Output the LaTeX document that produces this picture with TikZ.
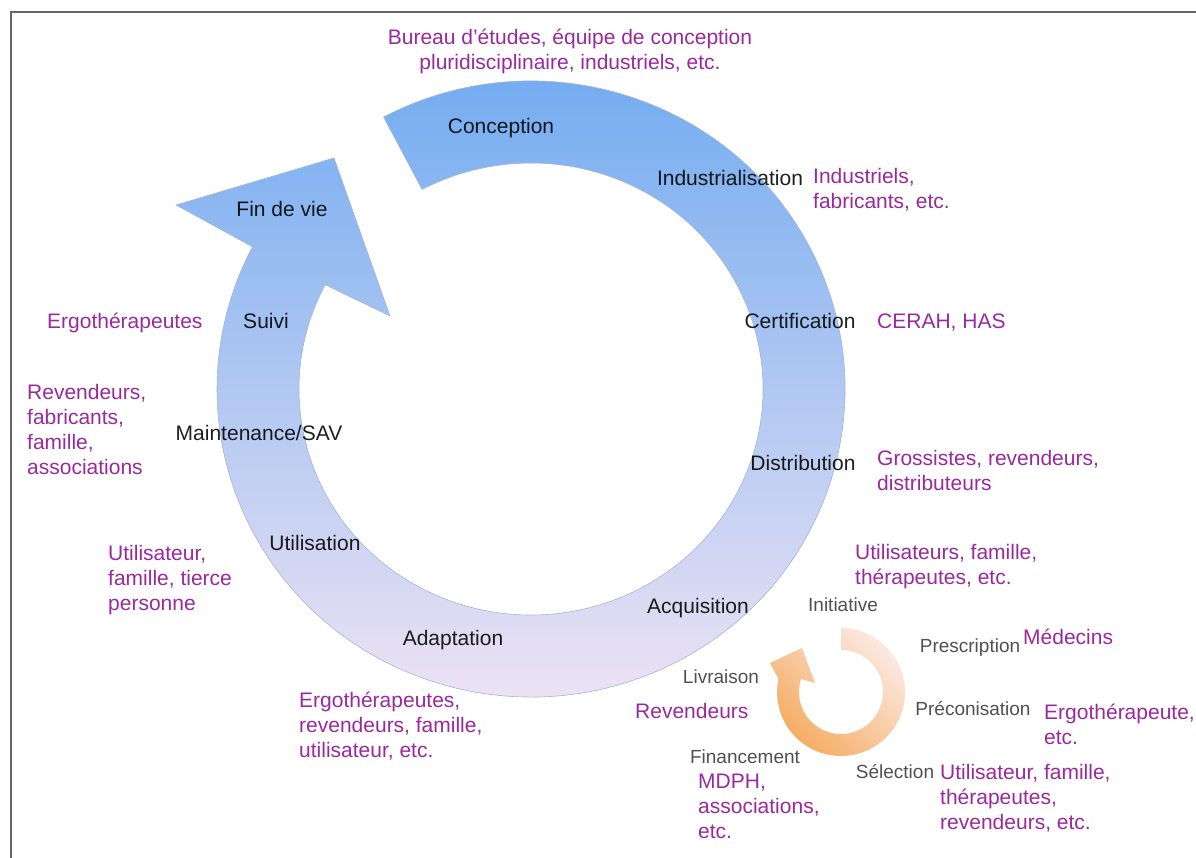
\documentclass[tikz,border=0pt]{standalone}
\usepackage{fontspec}
\setmainfont{Liberation Sans}
\usetikzlibrary{calc}
\definecolor{ringtop}{HTML}{6CA9F0}
\definecolor{ringmid}{HTML}{A3C6F0}
\definecolor{ringbot}{HTML}{F5E6F4}
\definecolor{ringline}{HTML}{A5B5D6}
\definecolor{orpale}{HTML}{FBE9E2}
\definecolor{ordeep}{HTML}{F5AB60}
\definecolor{actorcol}{HTML}{99299C}
\definecolor{subcol}{HTML}{505050}
\definecolor{framecol}{HTML}{666666}
\tikzset{
  framestyle/.style={draw=framecol, line width=2.2},
  bluering/.style={top color=ringtop, middle color=ringmid, bottom color=ringbot, draw=ringline, line width=0.6},
  orangering/.style={top color=orpale, bottom color=ordeep, shading angle=-45},
  stage/.style={font=\fontsize{21}{25}\selectfont, text=black, text opacity=0.88, inner sep=0, anchor=base},
  actor/.style={font=\fontsize{21}{25}\selectfont, text=actorcol, inner sep=0, align=left, anchor=north west},
  actorone/.style={font=\fontsize{21}{25}\selectfont, text=actorcol, inner sep=0, anchor=base west},
  substage/.style={font=\fontsize{19}{22}\selectfont, text=subcol, inner sep=0, anchor=base},
}
\begin{document}
\begin{tikzpicture}[x=1pt,y=-1pt]
\useasboundingbox (0,0) rectangle (1196,858);
\draw[framestyle] (11,858) -- (11,12) -- (1196,12);
\coordinate (C) at (531,389);
\coordinate (O) at (841,692);
% big blue circular arrow
\path[bluering] ($(C)+(-118:314 and 308)$)
  arc[start angle=-118, end angle=207.5, x radius=314, y radius=308]
  -- (176,205) -- (334,158) -- (390,316)
  -- ($(C)+(207.5:232 and 226)$)
  arc[start angle=207.5, end angle=-118, x radius=232, y radius=226]
  -- cycle;
% small orange circular arrow
\path[orangering] ($(O)+(-90:64)$)
  arc[start angle=-90, end angle=192, radius=64]
  -- (770,663) -- (802,648) -- (815,683)
  -- ($(O)+(198:42)$)
  arc[start angle=198, end angle=-90, radius=42]
  -- cycle;
% stages
\node[stage] (conception) at (501,134) {Conception};
\node[stage] (industrialisation) at (730,186) {Industrialisation};
\node[stage] (certification) at (800,329) {Certification};
\node[stage] (distribution) at (803,470) {Distribution};
\node[stage] (acquisition) at (698,613) {Acquisition};
\node[stage] (adaptation) at (453,645) {Adaptation};
\node[stage] (utilisation) at (315,550) {Utilisation};
\node[stage] (maintenance) at (259,440) {Maintenance/SAV};
\node[stage] (suivi) at (266,329) {Suivi};
\node[stage] (findevie) at (282,217) {Fin de vie};
% acquisition sub-stages
\node[substage] (initiative) at (843,611) {Initiative};
\node[substage] (prescription) at (970,652) {Prescription};
\node[substage] (preconisation) at (973,715) {Préconisation};
\node[substage] (selection) at (895,778) {Sélection};
\node[substage] (financement) at (745,763) {Financement};
\node[substage] (livraison) at (721,683) {Livraison};
% actors
\node[actor, align=center, anchor=north] (bureau) at (570,29) {Bureau d’études, équipe de conception\\pluridisciplinaire, industriels, etc.};
\node[actor] (industriels) at (813,168) {Industriels,\\fabricants, etc.};
\node[actorone] (cerah) at (877,329) {CERAH, HAS};
\node[actor] (grossistes) at (877,450) {Grossistes, revendeurs,\\distributeurs};
\node[actor] (utilfam) at (855,544) {Utilisateurs, famille,\\thérapeutes, etc.};
\node[actorone] (medecins) at (1023,644) {Médecins};
\node[actor] (ergoetc) at (1044,704) {Ergothérapeute,\\etc.};
\node[actor] (utilsel) at (940,764) {Utilisateur, famille,\\thérapeutes,\\revendeurs, etc.};
\node[actorone] (revendeurs) at (635,718) {Revendeurs};
\node[actor] (mdph) at (698,774) {MDPH,\\associations,\\etc.};
\node[actor] (ergoadapt) at (299,692) {Ergothérapeutes,\\revendeurs, famille,\\utilisateur, etc.};
\node[actor] (utiltierce) at (108,545) {Utilisateur,\\famille, tierce\\personne};
\node[actor] (revfab) at (27,384) {Revendeurs,\\fabricants,\\famille,\\associations};
\node[actorone] (ergosuivi) at (47,329) {Ergothérapeutes};
\end{tikzpicture}
\end{document}
